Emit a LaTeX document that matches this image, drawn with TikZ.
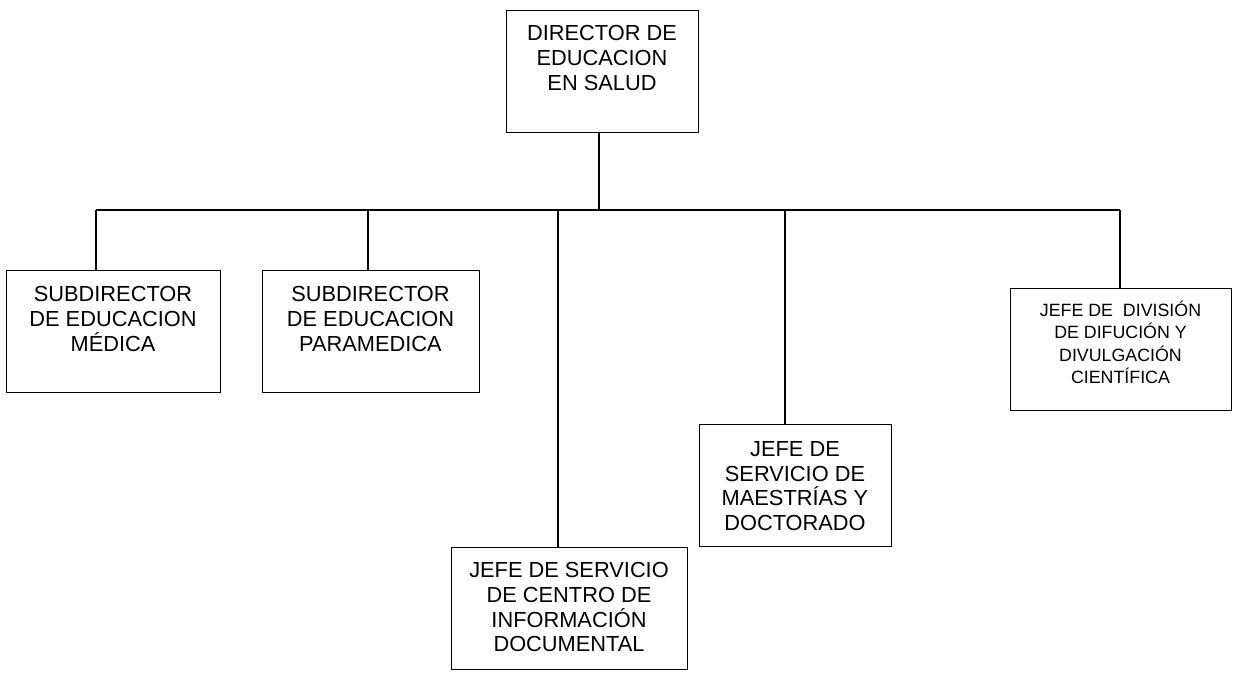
\documentclass[tikz,border=0pt]{standalone}
\usepackage{fontspec}
\setmainfont{Liberation Sans}
\begin{document}
\begin{tikzpicture}[x=1pt,y=-1pt,
  box/.style={draw,line width=1pt,minimum height=121.5pt,inner sep=0pt},
  txt/.style={anchor=north,align=center,inner sep=0pt,font=\fontsize{21.8}{24.8}\selectfont},
  conn/.style={line width=1.8pt}]
\useasboundingbox (0,0) rectangle (1233,677);

\node[box,minimum width=192pt] (dir) at (602,71.75) {};
\node[box,minimum width=214pt] (med) at (113,331.25) {};
\node[box,minimum width=217pt] (para) at (370.5,331.25) {};
\node[box,minimum width=236pt] (cid) at (569,608.25) {};
\node[box,minimum width=192pt] (mae) at (795,485.25) {};
\node[box,minimum width=221pt] (dif) at (1120.5,349.25) {};

\node[txt,yshift=-15pt] (dirtxt) at (dir.north) {DIRECTOR DE\\EDUCACION\\EN SALUD};
\node[txt,yshift=-16.5pt] (medtxt) at (med.north) {SUBDIRECTOR\\DE EDUCACION\\MÉDICA};
\node[txt,yshift=-16.5pt] (paratxt) at (para.north) {SUBDIRECTOR\\DE EDUCACION\\PARAMEDICA};
\node[txt,yshift=-15pt] (cidtxt) at (cid.north) {JEFE DE SERVICIO\\DE CENTRO DE\\INFORMACIÓN\\DOCUMENTAL};
\node[txt,yshift=-17pt] (maetxt) at (mae.north) {JEFE DE\\SERVICIO DE\\MAESTRÍAS Y\\DOCTORADO};
\node[txt,yshift=-13pt,font=\fontsize{17.8}{22.2}\selectfont] (diftxt) at (dif.north) {JEFE DE~ DIVISIÓN\\DE DIFUCIÓN Y\\DIVULGACIÓN\\CIENTÍFICA};

% connectors
\coordinate (bus) at (599,210);
\coordinate (busl) at (96,210);
\coordinate (busr) at (1120,210);
\draw[conn] (bus |- dir.south) -- (bus);
\draw[conn] (busl) -- (busr);
\foreach \n/\x in {med/96,para/368,cid/558,mae/785,dif/1120}
  \draw[conn] (\x,210) -- (\x,0 |- \n.north);

\end{tikzpicture}
\end{document}
